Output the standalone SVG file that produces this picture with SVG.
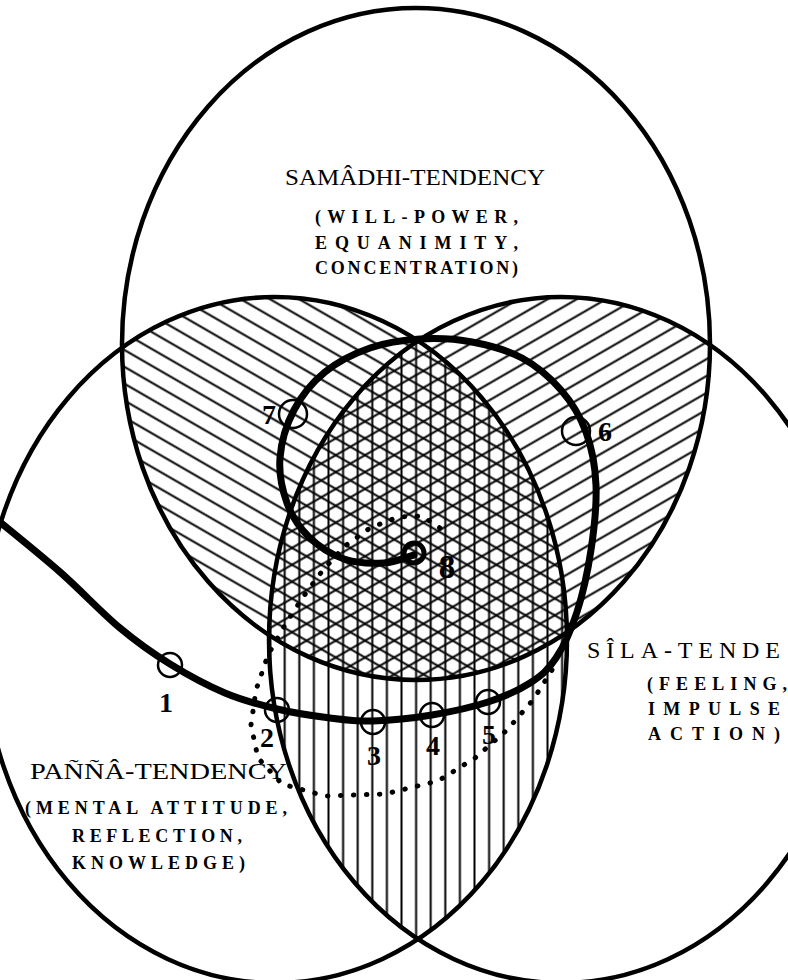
<svg xmlns="http://www.w3.org/2000/svg" width="788" height="980" viewBox="0 0 788 980">
<style>
.ring{fill:none;stroke:#000;stroke-width:4.5}
.hl{stroke:#000;stroke-width:2}
.lbl{font-family:"Liberation Serif","DejaVu Serif",serif;fill:#000}
.title{font-size:24px}
.sub{font-weight:bold;font-size:18px}
.num{font-family:"Liberation Serif","DejaVu Serif",serif;font-weight:bold;font-size:28px;fill:#000;text-anchor:middle}
.mark{fill:none;stroke:#000;stroke-width:2.5}
.spiral{fill:none;stroke:#000;stroke-width:7;stroke-linecap:round;stroke-linejoin:round}
.dots{fill:none;stroke:#000;stroke-width:5;stroke-linecap:round;stroke-dasharray:0.5 12.5}
</style>
<defs>
<clipPath id="cTop"><ellipse cx="416" cy="344" rx="294" ry="336"/></clipPath>
<clipPath id="cLeft"><ellipse cx="275" cy="640" rx="292" ry="343"/></clipPath>
<pattern id="hV" patternUnits="userSpaceOnUse" width="14.6" height="20"><line class="hl" x1="7.3" y1="-1" x2="7.3" y2="21"/></pattern>
<pattern id="hA" patternUnits="userSpaceOnUse" width="14.6" height="20" patternTransform="rotate(-60)"><line class="hl" x1="7.3" y1="-1" x2="7.3" y2="21"/></pattern>
<pattern id="hB" patternUnits="userSpaceOnUse" width="14.6" height="20" patternTransform="rotate(60)"><line class="hl" x1="7.3" y1="-1" x2="7.3" y2="21"/></pattern>
</defs>
<rect width="788" height="980" fill="#fff"/>
<g id="hatching">
<g clip-path="url(#cTop)">
<ellipse cx="275" cy="640" rx="292" ry="343" fill="url(#hA)"/>
<ellipse cx="561" cy="640" rx="292" ry="343" fill="url(#hB)"/>
</g>
<g clip-path="url(#cLeft)">
<ellipse cx="561" cy="640" rx="292" ry="343" fill="url(#hV)"/>
</g>
</g>
<g id="samadhi">
<ellipse class="ring" cx="416" cy="344" rx="294" ry="336"/>
<text class="lbl title" x="415" y="185" text-anchor="middle" textLength="260" lengthAdjust="spacingAndGlyphs">SAMÂDHI-TENDENCY</text>
<text class="lbl sub" x="315" y="223" textLength="203" lengthAdjust="spacing">(WILL-POWER,</text>
<text class="lbl sub" x="315" y="249" textLength="203" lengthAdjust="spacing">EQUANIMITY,</text>
<text class="lbl sub" x="315" y="274" textLength="203" lengthAdjust="spacing">CONCENTRATION)</text>
</g>
<g id="panna">
<ellipse class="ring" cx="275" cy="640" rx="292" ry="343"/>
<text class="lbl title" x="30" y="779" textLength="257" lengthAdjust="spacingAndGlyphs">PAÑÑÂ-TENDENCY</text>
<text class="lbl sub" x="25" y="814" textLength="262" lengthAdjust="spacing">(MENTAL ATTITUDE,</text>
<text class="lbl sub" x="72" y="842" textLength="170" lengthAdjust="spacing">REFLECTION,</text>
<text class="lbl sub" x="72" y="869" textLength="173" lengthAdjust="spacing">KNOWLEDGE)</text>
</g>
<g id="sila">
<ellipse class="ring" cx="561" cy="640" rx="292" ry="343"/>
<text class="lbl title" x="587" y="658" textLength="193" lengthAdjust="spacing">SÎLA-TENDE</text>
<text class="lbl sub" x="647" y="690" textLength="140" lengthAdjust="spacing">(FEELING,</text>
<text class="lbl sub" x="648" y="715" textLength="132" lengthAdjust="spacing">IMPULSE</text>
<text class="lbl sub" x="648" y="740" textLength="132" lengthAdjust="spacing">ACTION)</text>
</g>
<g id="connectors">
<path class="spiral" d="M -5,518 C 5.8,527 39.2,553.7 60,572 C 80.8,590.3 101.7,612.7 120,628 C 138.3,643.3 152.5,653.2 170,664 C 187.5,674.8 207.2,685.5 225,693 C 242.8,700.5 259.5,704.8 277,709 C 294.5,713.2 314,716 330,718 C 346,720 356,721.5 373,721 C 390,720.5 412.8,718.2 432,715 C 451.2,711.8 471.7,707.3 488,702 C 504.3,696.7 518.7,690.3 530,683 C 541.3,675.7 548.2,669.8 556,658 C 563.8,646.2 571.2,630 577,612 C 582.8,594 587.8,571.2 591,550 C 594.2,528.8 596.8,504.7 596,485 C 595.2,465.3 591.8,447.8 586,432 C 580.2,416.2 571.7,402.3 561,390 C 550.3,377.7 536.8,366 522,358 C 507.2,350 489,345.2 472,342 C 455,338.8 437,338 420,339 C 403,340 385.8,342.5 370,348 C 354.2,353.5 337.7,361.7 325,372 C 312.3,382.3 301.5,395.7 294,410 C 286.5,424.3 281.2,442.5 280,458 C 278.8,473.5 282.2,489.8 287,503 C 291.8,516.2 299.5,527.7 309,537 C 318.5,546.3 331.5,554.7 344,559 C 356.5,563.3 372.3,563.7 384,563 C 395.7,562.3 409,556.3 414,555"/>
<path class="dots" d="M 440,528 L 422,516 L 398,517 L 370,528 L 345,546 L 323,570 L 303,597 L 285,625 L 268,655 L 256,690 L 251,725 L 258,758 L 282,784 L 325,796 L 385,794 L 438,781 L 475,758 L 507,730 L 533,700 L 552,670"/>
</g>
<g id="p1"><circle class="mark" cx="170" cy="665" r="12"/><text class="num" x="166" y="712">1</text></g>
<g id="p2"><circle class="mark" cx="277" cy="710" r="12"/><text class="num" x="267" y="747">2</text></g>
<g id="p3"><circle class="mark" cx="373" cy="722" r="12"/><text class="num" x="374" y="765">3</text></g>
<g id="p4"><circle class="mark" cx="432" cy="715" r="12"/><text class="num" x="433" y="755">4</text></g>
<g id="p5"><circle class="mark" cx="488" cy="702" r="12"/><text class="num" x="489" y="744">5</text></g>
<g id="p6"><circle class="mark" cx="576" cy="431" r="14"/><text class="num" x="605" y="441">6</text></g>
<g id="p7"><circle class="mark" cx="293" cy="414" r="14"/><text class="num" x="269" y="424">7</text></g>
<g id="p8"><circle cx="414" cy="553" r="10" fill="none" stroke="#000" stroke-width="5"/><text class="num" x="447" y="578" style="font-size:33px">8</text></g>
</svg>
